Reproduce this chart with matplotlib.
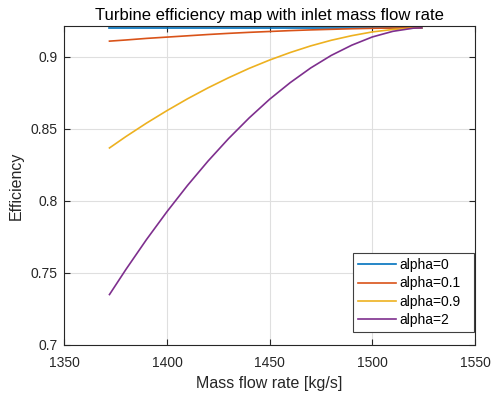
import numpy as np
import matplotlib
matplotlib.use('Agg')
import matplotlib.pyplot as plt
from matplotlib.ticker import FuncFormatter

plt.rcParams['font.family'] = ['Liberation Sans', 'DejaVu Sans']

# mass flow rate [kg/s]
mass_flow = [1372, 1380, 1390, 1400, 1410, 1420, 1430, 1440, 1450, 1460,
             1470, 1480, 1490, 1500, 1510, 1520, 1524]

eff_a0 = [0.92] * len(mass_flow)
eff_a01 = [0.9108, 0.9116, 0.9127, 0.9136, 0.9145, 0.9154, 0.9162, 0.9169, 0.9175,
           0.9181, 0.9186, 0.9190, 0.9194, 0.9197, 0.9199, 0.9200, 0.9200]
eff_a09 = [0.8367, 0.8446, 0.8539, 0.8626, 0.8708, 0.8784, 0.8854, 0.8919, 0.8977,
           0.9029, 0.9075, 0.9114, 0.9146, 0.9172, 0.9189, 0.9199, 0.9200]
eff_a2 = [0.7350, 0.7524, 0.7731, 0.7925, 0.8107, 0.8276, 0.8432, 0.8575, 0.8705,
          0.8820, 0.8922, 0.9009, 0.9080, 0.9137, 0.9176, 0.9198, 0.9200]

labels = ['alpha=0', 'alpha=0.1', 'alpha=0.9', 'alpha=2']
colors = ['#0072BD', '#D95319', '#EDB120', '#7E2F8E']

fig = plt.figure(figsize=(4.92, 3.97), dpi=100)
ax = fig.add_axes([0.1307, 0.131, 0.8347, 0.8035])

for y, lab, c in zip([eff_a0, eff_a01, eff_a09, eff_a2], labels, colors):
    ax.plot(mass_flow, y, color=c, lw=1.2, label=lab)

ax.set_xlim(1350, 1550)
ax.set_ylim(0.7, 0.9213)
ax.set_xticks([1350, 1400, 1450, 1500, 1550])
ax.set_yticks([0.7, 0.75, 0.8, 0.85, 0.9])
ax.yaxis.set_major_formatter(FuncFormatter(lambda v, p: '%g' % round(v, 2)))

ax.grid(True, color='#dfdfdf', lw=0.8)
ax.set_axisbelow(True)
for s in ax.spines.values():
    s.set_color('#262626')
    s.set_linewidth(0.8)
ax.tick_params(direction='in', top=True, right=True, length=4, width=0.8,
               colors='#262626', labelsize=10, labelcolor='#262626')
ax.tick_params(axis='x', pad=8)
ax.tick_params(axis='y', pad=5)

ax.set_xlabel('Mass flow rate [kg/s]', fontsize=11.5, color='#262626', labelpad=4)
ax.set_ylabel('Efficiency', fontsize=11.5, color='#262626', labelpad=5)
ax.set_title('Turbine efficiency map with inlet mass flow rate', fontsize=12,
             color='black', pad=4)

leg = ax.legend(loc='lower right', bbox_to_anchor=(0.703, 0.041, 0.2946, 0.0),
                mode='expand', fontsize=10, fancybox=False, framealpha=1,
                edgecolor='#404040', handlelength=2.75, borderpad=0.33,
                labelspacing=0.32, handletextpad=0.25, borderaxespad=0.0)
leg.get_frame().set_linewidth(0.8)

fig.savefig('out.png', dpi=100)
